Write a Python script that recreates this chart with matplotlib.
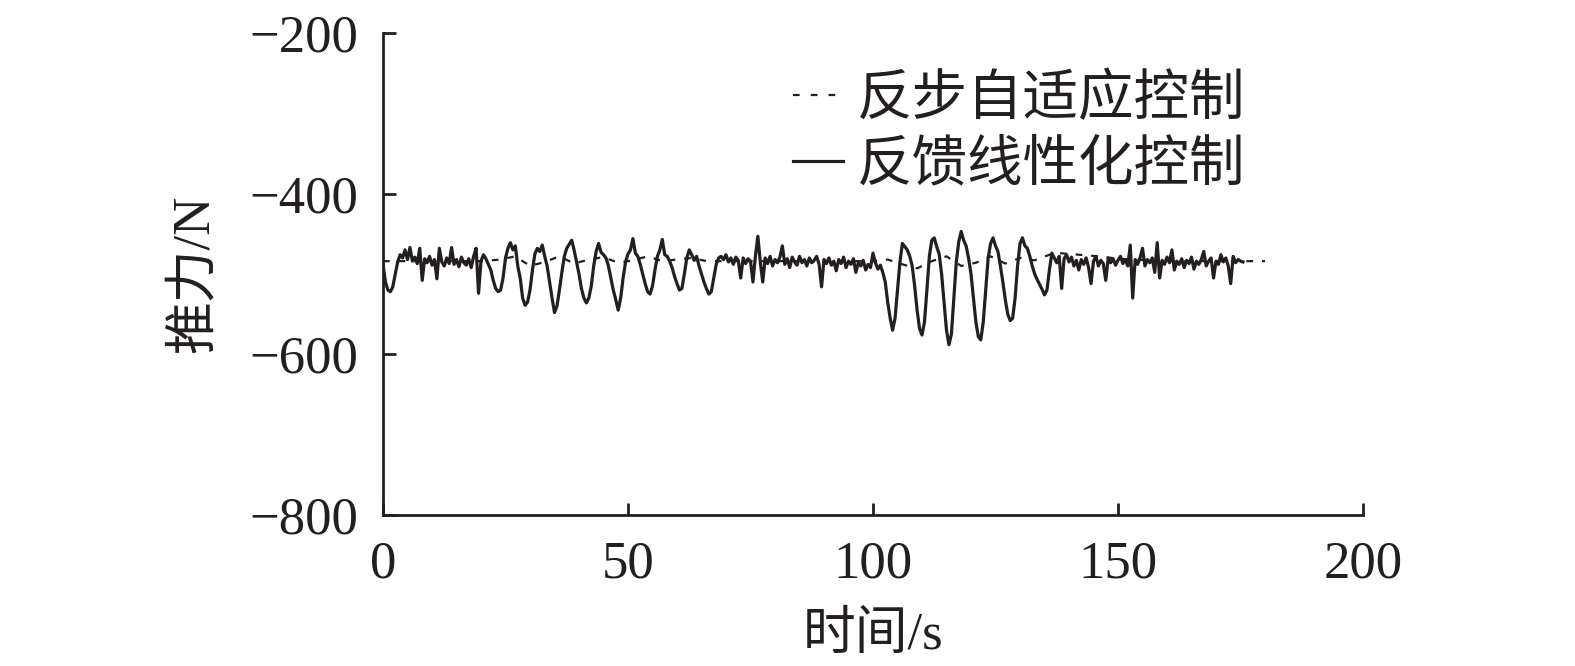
import numpy as np
import matplotlib
matplotlib.use("Agg")
import matplotlib.pyplot as plt

plt.rcParams['font.family'] = ['Liberation Serif', 'Noto Sans CJK SC']
plt.rcParams['axes.unicode_minus'] = True

# 反馈线性化控制 (sampled every 0.5 s, starting at 0 s)
time_step = 0.5
thrust_fl = [
    -488, -510, -520, -522, -516, -500, -485, -476, -480, -470,
    -482, -467, -484, -479, -487, -468, -508, -481, -486, -478,
    -489, -482, -506, -468, -485, -490, -480, -487, -467, -488,
    -482, -491, -479, -486, -489, -481, -492, -478, -468, -524,
    -484, -476, -481, -488, -495, -508, -518, -522, -520, -505,
    -480, -468, -461, -470, -465, -490, -505, -530, -539, -535,
    -520, -495, -475, -468, -472, -464, -478, -490, -510, -530,
    -548, -540, -520, -498, -478, -468, -463, -458, -470, -485,
    -500, -518, -530, -536, -530, -515, -490, -472, -462, -473,
    -476, -480, -490, -505, -520, -532, -545, -530, -505, -485,
    -475, -470, -456, -474, -478, -488, -500, -512, -522, -525,
    -515, -495, -478, -470, -457, -476, -478, -484, -492, -503,
    -512, -520, -518, -500, -480, -470, -476, -483, -478, -490,
    -500, -510, -518, -525, -522, -505, -488, -480, -478, -482,
    -476, -485, -480, -488, -479, -483, -505, -480, -487, -481,
    -484, -510, -478, -453, -485, -510, -480, -487, -478, -490,
    -482, -486, -479, -465, -488, -481, -492, -479, -485, -489,
    -478, -486, -482, -490, -480, -486, -483, -478, -488, -516,
    -482, -487, -480, -489, -484, -496, -482, -487, -479, -492,
    -484, -488, -481, -498, -486, -490, -483, -495, -488, -492,
    -474, -486, -494, -489, -498, -510, -535, -555, -570, -555,
    -520, -485, -462, -466, -470, -478, -490, -515, -545, -568,
    -576, -560, -520, -478, -458, -455, -466, -475, -500, -535,
    -570, -588, -575, -530, -485, -460, -447, -458, -465, -480,
    -500, -530, -560, -578, -582, -560, -520, -480, -462, -455,
    -465, -472, -490, -510, -532, -550, -558, -555, -530, -490,
    -462, -455, -465, -468, -478, -490, -500, -507, -513, -519,
    -526, -520, -495, -474, -480, -486, -478, -518, -481, -476,
    -485, -479, -490, -483, -495, -482, -488, -480, -492, -512,
    -484, -478, -490, -483, -487, -508, -480, -486, -481, -489,
    -483, -478, -487, -482, -490, -464, -530, -482, -488, -480,
    -468, -490, -482, -486, -480, -498, -461, -505, -483, -488,
    -479, -486, -470, -495, -484, -488, -481, -492, -483, -487,
    -479, -494, -484, -488, -482, -472, -490, -484, -480, -505,
    -484, -488, -476, -485, -480, -490, -512, -478, -486, -482,
    -484, -485,
]

# 反步自适应控制
time_bs = [0, 5, 10, 20, 24, 27, 30, 33, 36, 39, 42, 45, 48, 51, 54, 57, 60,
           63, 66, 70, 80, 90, 100, 103, 106, 109, 112, 115, 118, 121, 124,
           127, 130, 133, 136, 138, 142, 146, 150, 160, 170, 180]
thrust_bs = [-484, -484, -484, -484, -482, -478, -490, -485, -478, -487, -482,
             -479, -486, -483, -478, -484, -482, -480, -484, -484, -484, -484,
             -484, -482, -488, -493, -484, -478, -490, -486, -478, -487, -480,
             -483, -476, -474, -476, -478, -481, -484, -484, -484]

x_ticks = [0, 50, 100, 150, 200]
y_ticks = [-800, -600, -400, -200]

ink = '#231f20'
fs = 38

fig = plt.figure(figsize=(15.75, 6.66), dpi=100)
ax = fig.add_axes([383 / 1575, 1 - 515 / 666, 980 / 1575, 482 / 666])

time_fl = np.arange(len(thrust_fl)) * time_step
ax.plot(time_bs, thrust_bs, color=ink, lw=1.6, linestyle=(0, (3, 4)),
        label='反步自适应控制')
ax.plot(time_fl, thrust_fl, color=ink, lw=2.3, label='反馈线性化控制')

ax.set_xlim(0, 200)
ax.set_ylim(-800, -200)
ax.set_xticks(x_ticks)
ax.set_yticks(y_ticks)
ax.spines['top'].set_visible(False)
ax.spines['right'].set_visible(False)
for s in ['left', 'bottom']:
    ax.spines[s].set_linewidth(2)
    ax.spines[s].set_color(ink)
ax.tick_params(direction='in', length=9, width=2, color=ink,
               labelsize=fs, labelcolor=ink)
ax.tick_params(axis='x', pad=18)
ax.tick_params(axis='y', pad=18)

ax.set_xlabel('时间/s', fontsize=fs, color=ink, labelpad=17)
ax.set_ylabel('推力/N', fontsize=fs, color=ink, labelpad=22)

leg = ax.legend(loc='upper left', bbox_to_anchor=(793 / 1575, 1 - 74 / 666),
                bbox_transform=fig.transFigure, frameon=False, fontsize=40,
                handlelength=0.9, handletextpad=0.25, labelspacing=0.25,
                borderpad=0, borderaxespad=0)
leg.get_lines()[0].set_linestyle((0, (3, 5)))
for t in leg.get_texts():
    t.set_color(ink)

fig.savefig('out.png', dpi=100)
